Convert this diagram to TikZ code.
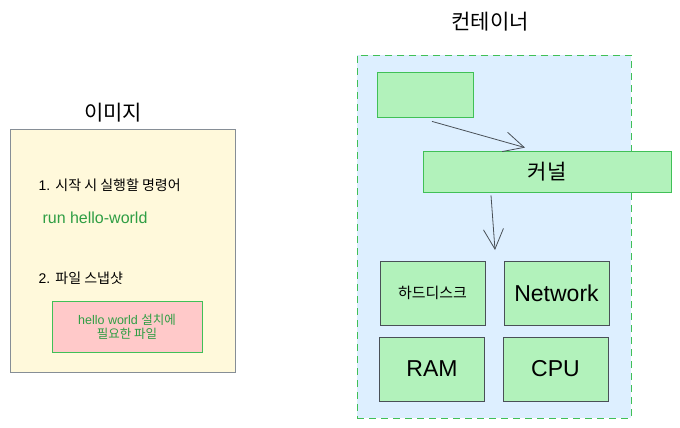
\documentclass[tikz,border=0pt]{standalone}
\usepackage{fontspec}
\setmainfont{Liberation Sans}
\newfontfamily\kr{Noto Sans CJK KR}
\usetikzlibrary{arrows.meta}
\definecolor{paper}{HTML}{FFF9DB}
\definecolor{frame}{HTML}{868E96}
\definecolor{leaf}{HTML}{B2F2BB}
\definecolor{leafline}{HTML}{40C057}
\definecolor{leaftext}{HTML}{2F9E44}
\definecolor{rose}{HTML}{FFC9C9}
\definecolor{sky}{HTML}{DDEFFF}
\definecolor{ink}{HTML}{495057}

\begin{document}
\begin{tikzpicture}[x=1pt, y=-1pt,
	panel/.style={draw=frame, fill=paper, thick},
	layer/.style={draw=leafline, fill=leaf, thick},
	part/.style={draw=ink, fill=leaf, thick, minimum width=105pt, minimum height=64pt},
	link/.style={draw=ink, thick, -{Straight Barb[length=20pt, width=20pt]}}]
\useasboundingbox (0, 0) rectangle (680, 428);

\node[panel, minimum width=225pt, minimum height=243pt] (image) at (122.5, 251) {};
\node[font=\kr\fontsize{21}{25}\selectfont] (imagetitle) at (113, 113) {이미지};
\node[anchor=west, font=\fontsize{14}{17}\selectfont] (cmd) at (35, 185) {1. {\kr 시작 시 실행할 명령어}};
\node[anchor=west, text=leaftext, font=\fontsize{16}{19}\selectfont] (run) at (39, 218) {run hello-world};
\node[anchor=west, font=\fontsize{14}{17}\selectfont] (snap) at (35, 278) {2. {\kr 파일 스냅샷}};
\node[draw=leafline, fill=rose, thick, minimum width=150pt, minimum height=51pt, text=leaftext, align=center, font=\fontsize{12.5}{14}\selectfont] (files) at (127, 326.5) {hello world {\kr 설치에}\\{\kr 필요한 파일}};

\node[draw=leafline, fill=sky, thick, dash pattern=on 7pt off 5pt, minimum width=274pt, minimum height=363pt] (container) at (494, 236.5) {};
\node[font=\kr\fontsize{21}{25}\selectfont] (containertitle) at (490, 22) {컨테이너};
\node[layer, minimum width=96pt, minimum height=45pt] (app) at (425, 94.5) {};
\node[layer, minimum width=248pt, minimum height=41pt, font=\kr\fontsize{21}{25}\selectfont] (kernel) at (547, 171.5) {커널};

\node[part, font=\kr\fontsize{15}{18}\selectfont] (disk) at (432.5, 293) {하드디스크};
\node[part, font=\fontsize{23}{27}\selectfont] (net) at (556.5, 293) {Network};
\node[part, font=\fontsize{23}{27}\selectfont] (ram) at (432, 369) {RAM};
\node[part, font=\fontsize{23}{27}\selectfont] (cpu) at (555.5, 369) {CPU};

\coordinate (gap) at (495, 250);
\draw[link] ([xshift=7pt, yshift=-4pt]app.south) -- ([xshift=-22pt, yshift=3pt]kernel.north);
\draw[link] ([xshift=-56pt, yshift=-3pt]kernel.south) -- (gap);
\end{tikzpicture}
\end{document}
